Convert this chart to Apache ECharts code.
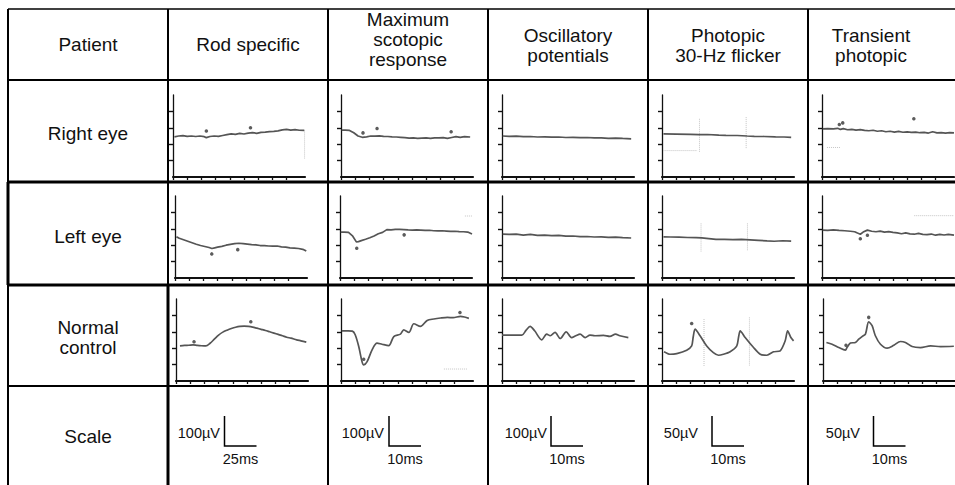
<!DOCTYPE html>
<html><head><meta charset="utf-8">
<script src="https://cdn.jsdelivr.net/npm/echarts@6/dist/echarts.min.js"></script>
<style>html,body{margin:0;padding:0;background:#fff}#c{width:955px;height:485px}</style>
</head><body><div id="c"></div>
<script>
// ---------- text ----------
const headers = ['Patient', 'Rod specific', 'Maximum\nscotopic\nresponse', 'Oscillatory\npotentials', 'Photopic\n30-Hz flicker', 'Transient\nphotopic'];
const rowLabels = ['Right eye', 'Left eye', 'Normal\ncontrol', 'Scale'];
const scaleAmp = ['100µV', '100µV', '100µV', '50µV', '50µV'];
const scaleTime = ['25ms', '10ms', '10ms', '10ms', '10ms'];

// ---------- axes (tick units) ----------
const xTicks = [0, 1, 2, 3, 4, 5, 6, 7, 8];
const yTicks = [1, 2, 3, 4];

// ---------- traces [time, amplitude] in tick units ----------
const rightRod = [[0.1,2.45],[0.4,2.5],[0.7,2.52],[1.0,2.48],[1.3,2.5],[1.6,2.47],[1.9,2.5],[2.2,2.46],[2.35,2.4],[2.6,2.47],[2.9,2.5],[3.2,2.48],[3.5,2.53],[3.8,2.58],[4.1,2.63],[4.4,2.6],[4.7,2.66],[5.0,2.62],[5.3,2.68],[5.6,2.71],[5.9,2.66],[6.2,2.72],[6.5,2.74],[6.8,2.77],[7.1,2.78],[7.4,2.81],[7.7,2.87],[8.0,2.9],[8.3,2.86],[8.6,2.89],[8.9,2.85],[9.25,2.84]];
const rightMax = [[0.05,2.86],[0.3,2.86],[0.6,2.84],[0.9,2.7],[1.2,2.5],[1.5,2.42],[1.8,2.45],[2.1,2.5],[2.4,2.49],[2.7,2.51],[3.0,2.48],[3.3,2.47],[3.6,2.45],[3.9,2.44],[4.2,2.42],[4.5,2.4],[4.8,2.37],[5.1,2.38],[5.4,2.36],[5.7,2.37],[6.0,2.38],[6.3,2.36],[6.6,2.39],[6.9,2.38],[7.2,2.4],[7.5,2.36],[7.8,2.41],[8.1,2.46],[8.4,2.42],[8.7,2.46],[9.1,2.44]];
const rightOsc = [[0.05,2.5],[0.5,2.48],[1.0,2.49],[1.5,2.46],[2.0,2.47],[2.5,2.44],[3.0,2.45],[3.5,2.43],[4.0,2.44],[4.5,2.41],[5.0,2.42],[5.5,2.4],[6.0,2.41],[6.5,2.38],[7.0,2.39],[7.5,2.36],[8.0,2.37],[8.5,2.35],[9.1,2.33]];
const rightFlicker = [[0.1,2.63],[1.0,2.62],[2.0,2.6],[2.6,2.58],[3.2,2.59],[4.0,2.55],[4.5,2.54],[5.3,2.53],[6.0,2.5],[6.5,2.48],[7.2,2.47],[8.0,2.45],[8.6,2.44],[9.1,2.42]];
const rightTrans = [[0.05,2.94],[0.4,2.95],[0.8,2.93],[1.1,2.97],[1.3,2.9],[1.5,2.95],[1.8,2.88],[2.1,2.9],[2.4,2.86],[2.7,2.89],[3.0,2.84],[3.3,2.82],[3.6,2.85],[3.9,2.79],[4.2,2.82],[4.5,2.76],[4.8,2.79],[5.1,2.74],[5.4,2.78],[5.7,2.73],[6.0,2.75],[6.3,2.72],[6.6,2.74],[6.9,2.7],[7.2,2.72],[7.5,2.68],[7.8,2.76],[8.1,2.69],[8.4,2.7],[8.7,2.68],[9.0,2.71],[9.3,2.69]];

const leftRod = [[0.1,2.52],[0.3,2.42],[0.6,2.33],[0.9,2.24],[1.2,2.15],[1.5,2.06],[1.8,1.98],[2.1,1.92],[2.4,1.86],[2.6,1.8],[2.8,1.84],[3.0,1.88],[3.3,1.93],[3.6,2.0],[3.9,2.05],[4.2,2.1],[4.5,2.12],[4.8,2.1],[5.1,2.07],[5.4,2.04],[5.7,2.02],[6.0,1.98],[6.3,1.97],[6.6,1.95],[6.9,1.94],[7.2,1.95],[7.5,1.9],[7.8,1.88],[8.1,1.84],[8.4,1.82],[8.7,1.8],[9.0,1.75],[9.25,1.64]];
const leftMax = [[0.05,2.8],[0.3,2.8],[0.6,2.78],[0.9,2.55],[1.15,2.2],[1.3,2.22],[1.5,2.28],[1.8,2.36],[2.1,2.45],[2.4,2.56],[2.7,2.7],[3.0,2.78],[3.3,2.95],[3.6,2.93],[3.9,2.96],[4.2,2.97],[4.5,2.95],[4.8,2.93],[5.1,2.92],[5.4,2.94],[5.7,2.92],[6.0,2.9],[6.3,2.91],[6.6,2.88],[6.9,2.87],[7.2,2.88],[7.5,2.86],[7.8,2.84],[8.1,2.85],[8.4,2.83],[8.7,2.82],[9.0,2.8],[9.3,2.68]];
const leftOsc = [[0.05,2.68],[0.5,2.66],[1.0,2.67],[1.5,2.62],[2.0,2.66],[2.5,2.6],[3.0,2.62],[3.5,2.58],[4.0,2.6],[4.5,2.55],[5.0,2.56],[5.5,2.52],[6.0,2.53],[6.5,2.5],[7.0,2.51],[7.5,2.48],[8.0,2.49],[8.5,2.46],[9.1,2.44]];
const leftFlicker = [[0.1,2.51],[0.6,2.5],[1.2,2.49],[1.8,2.47],[2.4,2.46],[2.8,2.45],[3.3,2.4],[3.8,2.35],[4.4,2.36],[5.0,2.34],[5.6,2.35],[6.2,2.33],[6.8,2.3],[7.4,2.26],[7.9,2.24],[8.5,2.27],[9.1,2.25]];
const leftTrans = [[0.05,2.92],[0.4,2.9],[0.8,2.93],[1.2,2.9],[1.6,2.88],[2.0,2.85],[2.3,2.82],[2.5,2.74],[2.7,2.67],[2.9,2.8],[3.2,2.92],[3.5,2.85],[3.8,2.82],[4.1,2.86],[4.4,2.8],[4.7,2.83],[5.0,2.78],[5.3,2.75],[5.6,2.7],[5.9,2.75],[6.2,2.69],[6.5,2.67],[6.8,2.72],[7.1,2.66],[7.4,2.64],[7.7,2.68],[8.0,2.61],[8.3,2.66],[8.6,2.62],[8.9,2.66],[9.3,2.61]];

const normalRod = [[0.28,2.14],[0.6,2.17],[0.9,2.18],[1.2,2.2],[1.5,2.17],[1.8,2.15],[2.1,2.14],[2.4,2.3],[2.7,2.55],[3.0,2.8],[3.3,2.98],[3.6,3.1],[3.9,3.2],[4.2,3.28],[4.5,3.33],[4.8,3.34],[5.1,3.33],[5.4,3.29],[5.7,3.22],[6.0,3.15],[6.3,3.08],[6.6,3.0],[6.9,2.92],[7.2,2.84],[7.5,2.76],[7.8,2.67],[8.1,2.61],[8.5,2.51],[8.8,2.45],[9.18,2.37]];
const normalMax = [[0.05,3.06],[0.5,3.06],[0.8,3.04],[1.0,2.82],[1.25,2.1],[1.48,1.18],[1.6,0.98],[1.84,1.18],[2.19,1.9],[2.54,2.31],[2.89,2.24],[3.36,2.16],[3.72,2.71],[4.19,2.86],[4.42,3.12],[4.78,2.96],[5.13,3.49],[5.6,3.33],[6.07,3.69],[6.54,3.78],[7.01,3.84],[7.5,3.88],[7.9,3.86],[8.42,3.94],[8.7,3.9],[9.01,3.82]];
const normalOsc = [[0.0,2.8],[1.4,2.8],[1.7,3.1],[1.98,3.33],[2.3,3.06],[2.8,2.51],[3.15,2.86],[3.4,2.76],[3.74,2.96],[4.1,2.59],[4.52,3.0],[4.9,2.65],[5.2,2.76],[5.5,2.86],[5.86,2.65],[6.2,2.8],[6.55,2.76],[7.15,2.78],[7.6,2.72],[8.0,2.86],[8.3,2.76],[8.9,2.65]];
const normalFlicker = [[0.14,1.78],[0.56,1.63],[1.04,1.67],[1.74,1.88],[2.09,2.14],[2.2,2.7],[2.33,3.16],[2.68,2.76],[3.15,2.14],[3.62,1.73],[3.98,1.57],[4.33,1.63],[4.8,1.78],[5.27,2.14],[5.4,2.7],[5.51,3.06],[5.86,2.65],[6.45,2.04],[6.92,1.63],[7.39,1.57],[7.86,1.78],[8.33,1.84],[8.68,2.45],[8.85,3.06],[9.08,2.65],[9.27,2.45]];
const normalTrans = [[0.24,2.35],[0.64,2.24],[1.11,2.04],[1.58,1.88],[1.69,2.04],[1.93,2.31],[2.28,2.35],[2.52,2.55],[2.75,2.71],[2.99,2.86],[3.22,3.61],[3.46,3.37],[3.69,2.76],[4.05,2.24],[4.52,2.0],[4.99,2.18],[5.46,2.41],[5.81,2.35],[6.28,2.1],[6.87,2.04],[7.58,2.14],[8.28,2.1],[9.22,2.12]];

// ---------- peak markers ----------
const rightMarks = [[[2.35,2.8],[5.46,3.0]], [[1.55,2.69],[7.76,2.76],[2.54,2.96]], [], [], [[1.22,3.2],[1.46,3.3],[6.47,3.55]]];
const leftMarks = [[[2.59,1.47],[4.42,1.73]], [[1.18,1.82],[4.52,2.63]], [], [], [[2.7,2.39],[3.2,2.61]]];
const normalMarks = [[[1.27,2.39],[5.27,3.61]], [[1.6,1.33],[8.38,4.18]], [], [[2.09,3.51]], [[1.62,2.18],[3.22,3.88]]];

// ---------- faint recording artefacts ----------
const rightFaint = [[[[9.27,2.84],[9.27,1.1]]], [], [], [[[2.64,3.55],[2.64,1.51]], [[5.93,3.65],[5.93,1.71]], [[0.1,1.61],[2.5,1.61]]], [[[0.35,1.8],[1.3,1.8]]]];
const leftFaint = [[], [[[8.8,3.78],[9.3,3.78]]], [], [[[2.75,3.33],[2.75,1.59]], [[6.02,3.33],[6.02,1.69]]], [[[6.5,3.8],[9.3,3.8]]]];
const normalFaint = [[], [[[7.25,0.73],[8.9,0.73]]], [], [[[2.96,3.78],[2.96,0.92]], [[6.16,3.88],[6.16,0.92]]], []];

const traceRows = [
  [rightRod, rightMax, rightOsc, rightFlicker, rightTrans],
  [leftRod, leftMax, leftOsc, leftFlicker, leftTrans],
  [normalRod, normalMax, normalOsc, normalFlicker, normalTrans]
];
const markRows = [rightMarks, leftMarks, normalMarks];
const faintRows = [rightFaint, leftFaint, normalFaint];
const smoothCols = [0.3, 0.3, 0.3, 0.25, 0.3];

// ---------- layout ----------
const colX = [8, 168, 328, 488, 648, 808];
const rowY = [9, 80, 182, 285, 386];
const plotLeft = [[173, 341, 502, 662, 822], [175, 340, 502, 662, 822], [176, 341, 502, 662, 823]];
const plotTop = [95, 196, 299];
const plotW = 132, plotH = 82;

const chart = echarts.init(document.getElementById('c'), null, {renderer: 'svg'});
const grids = [], xAxes = [], yAxes = [], series = [];
let gi = 0;
for (let r = 0; r < 3; r++) {
  for (let c = 0; c < 5; c++) {
    grids.push({left: plotLeft[r][c], top: plotTop[r], width: plotW, height: plotH, containLabel: false});
    xAxes.push({gridIndex: gi, type: 'value', min: 0, max: 9.3, interval: 1,
      axisLine: {show: true, onZero: false, lineStyle: {color: '#111', width: 2.2}},
      axisTick: {show: true, customValues: xTicks, length: 3, lineStyle: {color: '#111', width: 1.3}},
      axisLabel: {show: false}, splitLine: {show: false}});
    yAxes.push({gridIndex: gi, type: 'value', min: 0, max: 5, interval: 1,
      axisLine: {show: true, onZero: false, lineStyle: {color: '#111', width: 1.3}},
      axisTick: {show: true, customValues: yTicks, length: 4, lineStyle: {color: '#111', width: 1.4}},
      axisLabel: {show: false}, splitLine: {show: false}});
    const smooth = r === 2 ? smoothCols[c] : false;
    faintRows[r][c].forEach(seg => series.push({type: 'line', xAxisIndex: gi, yAxisIndex: gi, data: seg,
      showSymbol: false, silent: true, lineStyle: {color: '#c4c4c4', width: 1, type: 'dotted'}}));
    series.push({type: 'line', xAxisIndex: gi, yAxisIndex: gi, data: traceRows[r][c], showSymbol: false,
      silent: true, smooth: smooth, lineStyle: {color: '#555', width: 1.7}});
    if (markRows[r][c].length) series.push({type: 'scatter', xAxisIndex: gi, yAxisIndex: gi, data: markRows[r][c],
      symbol: 'circle', symbolSize: 3.5, silent: true, itemStyle: {color: '#333'}});
    gi++;
  }
}

// table, labels and scale bars
const g = [];
const FONT = '"Liberation Sans", Arial, sans-serif';
function hline(y, x1, x2, w) { g.push({type: 'line', silent: true, shape: {x1: x1, y1: y, x2: x2, y2: y}, style: {stroke: '#000', lineWidth: w}}); }
function vline(x, y1, y2, w) { g.push({type: 'line', silent: true, shape: {x1: x, y1: y1, x2: x, y2: y2}, style: {stroke: '#000', lineWidth: w}}); }
function txt(s, x, y, size, align) {
  g.push({type: 'text', silent: true, x: x, y: y, style: {text: s, fill: '#111', font: size + 'px ' + FONT,
    fontSize: size, fontFamily: FONT, lineHeight: Math.round(size * 1.05),
    align: align || 'center', verticalAlign: 'middle', textAlign: align || 'center', textVerticalAlign: 'middle'}});
}
hline(rowY[0], 8, 955, 1.6);
hline(rowY[1], 8, 955, 2);
hline(rowY[2], 8, 955, 3);
hline(rowY[3], 8, 955, 3);
hline(rowY[4], 8, 955, 2);
vline(colX[0], 9, 485, 2);
vline(colX[0], 182, 285, 3);
vline(colX[1], 9, 285, 2);
vline(colX[1], 285, 485, 3);
for (let c = 2; c < 6; c++) vline(colX[c], 9, 485, 2);

const headCx = [88, 248, 408, 568, 728, 871];
const headCy = [44, 44, 39, 45, 45, 45];
headers.forEach((h, i) => txt(h, headCx[i], headCy[i], 19));
const rowCy = [133, 236, 337, 436];
rowLabels.forEach((s, i) => txt(s, 88, rowCy[i], 19));

const barX = [224.5, 389, 551, 712, 873.5];
const ampRight = [220, 384, 547, 698, 860];
scaleAmp.forEach((s, i) => {
  g.push({type: 'polyline', silent: true, shape: {points: [[barX[i], 416], [barX[i], 446], [barX[i] + 32, 446]]},
    style: {stroke: '#000', lineWidth: 1.5, fill: null}});
  txt(s, ampRight[i], 433, 14.5, 'right');
  txt(scaleTime[i], barX[i] + 16, 459, 14.5, 'center');
});

chart.setOption({
  animation: false,
  grid: grids, xAxis: xAxes, yAxis: yAxes, series: series,
  graphic: {elements: g}
});
</script></body></html>
